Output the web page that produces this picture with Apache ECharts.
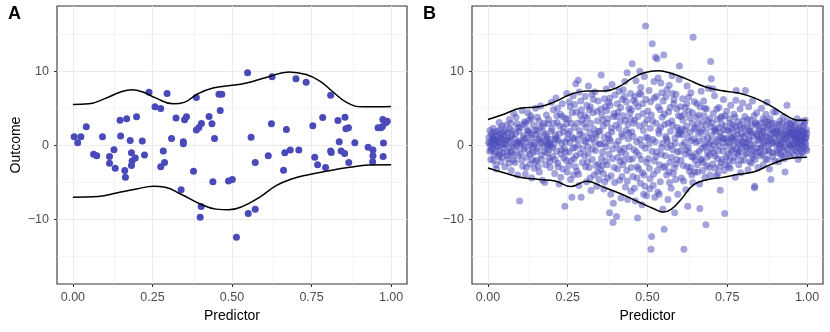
<!DOCTYPE html>
<html><head><meta charset="utf-8">
<script src="https://cdn.jsdelivr.net/npm/echarts@6/dist/echarts.min.js"></script>
<style>html,body{margin:0;padding:0;background:#fff}#c{width:830px;height:332px}</style>
</head><body><div id="c"></div>
<script>
const xTicks=[0,0.25,0.5,0.75,1];
const yTicks=[-10,0,10];
const xMinor=[0.125,0.375,0.625,0.875];
const yMinor=[-15,-5,5,15];
const panelLabels=['A','B'];

const pointsA=[[0.004,1.17],[0.015,0.36],[0.025,1.17],[0.042,2.5],[0.065,-1.2],[0.075,-1.4],[0.093,1.17],[0.115,-1.5],[0.115,-2.4],[0.129,-0.6],[0.133,-3.1],[0.148,3.4],[0.150,1.26],[0.163,-3.4],[0.165,-4.3],[0.169,3.6],[0.180,0.67],[0.184,-1.0],[0.184,-2.7],[0.186,-2.1],[0.196,-1.7],[0.200,3.86],[0.218,0.58],[0.225,-1.3],[0.239,7.17],[0.258,5.2],[0.276,4.98],[0.276,-2.9],[0.284,-0.76],[0.288,-2.3],[0.296,7.0],[0.310,0.94],[0.324,3.68],[0.340,-6.0],[0.347,0.22],[0.347,0.5],[0.351,3.45],[0.357,3.86],[0.379,-3.5],[0.388,6.46],[0.388,2.06],[0.396,2.42],[0.403,-8.25],[0.400,-9.7],[0.404,2.96],[0.428,3.9],[0.437,2.9],[0.440,-4.9],[0.445,0.94],[0.459,6.9],[0.468,6.9],[0.463,4.7],[0.489,-4.8],[0.501,-4.6],[0.514,-12.4],[0.549,9.78],[0.551,-9.2],[0.560,1.08],[0.573,-2.3],[0.573,-8.6],[0.614,-1.39],[0.624,2.9],[0.626,9.24],[0.662,-3.36],[0.666,-1.0],[0.671,2.15],[0.683,-0.63],[0.701,8.97],[0.710,-0.63],[0.733,8.5],[0.754,2.65],[0.760,-1.6],[0.769,-2.6],[0.785,3.77],[0.794,-3.0],[0.810,6.77],[0.810,-0.76],[0.812,-0.95],[0.833,3.36],[0.837,0.49],[0.843,-0.76],[0.855,3.8],[0.854,-1.1],[0.858,2.24],[0.866,2.38],[0.867,-2.3],[0.886,0.36],[0.928,-0.27],[0.943,-0.63],[0.943,-1.4],[0.942,-2.2],[0.959,2.38],[0.968,2.38],[0.974,3.5],[0.976,0.31],[0.975,-1.5],[0.983,3.05],[0.988,3.27],[0.973,2.56]];
const upperA=[[0,5.5],[0.05,5.6],[0.1,6.3],[0.15,7.2],[0.185,7.5],[0.22,7.2],[0.26,6.4],[0.315,5.6],[0.35,5.8],[0.39,6.9],[0.44,7.75],[0.5,8.1],[0.545,8.4],[0.61,9.2],[0.68,9.9],[0.733,9.55],[0.775,8.7],[0.815,7.3],[0.86,5.8],[0.91,5.2],[0.96,5.2],[1,5.25]];
const lowerA=[[0,-7.0],[0.08,-6.9],[0.14,-6.4],[0.2,-5.9],[0.253,-5.5],[0.29,-5.65],[0.34,-6.6],[0.4,-7.9],[0.45,-8.6],[0.49,-8.7],[0.53,-8.3],[0.59,-6.9],[0.64,-5.4],[0.69,-4.5],[0.74,-3.95],[0.8,-3.45],[0.87,-2.95],[0.93,-2.65],[1,-2.6]];

const pointsB=[
[0.003,1.1],[0.005,-0.8],[0.007,0.3],[0.009,-1.9],[0.011,1.6],[0.012,0.5],[0.014,-0.4],[0.016,2.3],[0.018,0.9],[0.019,-1.2],[0.021,0.1],[0.023,1.4],[0.025,-2.6],[0.026,0.7],[0.028,-0.2],[0.030,1.9],[0.032,-1.5],[0.034,0.4],[0.035,3.1],[0.037,-0.7],[0.039,1.0],[0.041,-2.2],[0.043,0.2],[0.045,2.6],[0.046,-1.0],[0.048,0.8],[0.049,-0.3],[0.013,1.2],[0.027,-3.2],[0.040,1.5],[0.008,-0.1],[0.022,0.6],[0.044,-1.6],
[0.051,1.3],[0.053,-2.9],[0.055,0.2],[0.057,2.7],[0.059,-0.9],[0.061,1.7],[0.063,-1.8],[0.065,0.6],[0.067,3.5],[0.069,-0.3],[0.071,1.1],[0.073,-3.4],[0.075,2.0],[0.077,0.0],[0.079,-1.3],[0.081,4.3],[0.083,0.9],[0.085,-2.3],[0.087,1.6],[0.089,-0.6],[0.091,2.9],[0.093,-4.0],[0.095,0.4],[0.097,1.9],[0.099,-7.5],[0.058,0.7],[0.074,-1.0],[0.088,3.8],[0.096,-1.4],[0.066,-2.4],
[0.101,2.4],[0.103,-1.1],[0.105,0.5],[0.107,4.7],[0.109,-2.8],[0.111,1.3],[0.113,-0.2],[0.115,3.2],[0.117,-3.9],[0.119,0.9],[0.121,-1.6],[0.123,2.1],[0.125,4.4],[0.127,-0.7],[0.129,1.7],[0.131,-2.5],[0.133,0.1],[0.135,3.6],[0.137,-4.4],[0.139,1.0],[0.141,-1.0],[0.143,2.7],[0.145,-3.1],[0.147,0.4],[0.149,5.0],[0.112,-0.5],[0.126,1.9],[0.138,-1.9],[0.144,0.0],[0.118,3.0],
[0.151,1.5],[0.153,-2.0],[0.155,3.8],[0.157,-0.4],[0.159,0.8],[0.161,-3.6],[0.163,2.4],[0.165,5.3],[0.167,-1.3],[0.169,0.3],[0.171,-4.7],[0.173,1.8],[0.175,3.0],[0.177,-0.9],[0.179,0.6],[0.181,-2.6],[0.183,4.1],[0.185,1.2],[0.187,-0.1],[0.189,2.9],[0.191,-1.7],[0.193,0.4],[0.195,-3.0],[0.197,1.9],[0.199,5.8],[0.188,0.2],[0.192,-0.6],[0.184,0.9],[0.196,0.0],[0.178,-5.0],[0.162,1.1],
[0.201,2.2],[0.203,-1.5],[0.205,4.8],[0.207,0.1],[0.209,-3.8],[0.211,1.4],[0.213,6.4],[0.215,-0.8],[0.217,3.1],[0.219,-2.4],[0.221,0.7],[0.223,-5.2],[0.225,2.6],[0.227,4.2],[0.229,-1.2],[0.231,0.3],[0.233,5.6],[0.235,-3.2],[0.237,1.8],[0.239,-0.4],[0.241,-8.2],[0.243,3.6],[0.245,-2.0],[0.247,7.0],[0.249,0.9],[0.214,1.0],[0.228,-4.3],[0.236,2.4],[0.244,-0.9],[0.218,5.0],
[0.251,1.6],[0.253,-2.7],[0.255,5.9],[0.257,0.4],[0.259,-4.6],[0.261,3.0],[0.263,-7.0],[0.265,1.1],[0.267,6.7],[0.269,-1.8],[0.271,2.4],[0.273,-0.3],[0.275,8.3],[0.277,4.5],[0.279,-3.5],[0.281,0.8],[0.283,8.8],[0.285,-5.4],[0.287,2.0],[0.289,-1.1],[0.291,6.0],[0.292,-7.0],[0.294,3.4],[0.296,-2.3],[0.298,1.3],[0.258,5.2],[0.268,-4.0],[0.282,0.0],[0.290,4.1],[0.274,-2.9],[0.286,7.2],
[0.301,2.9],[0.303,-1.4],[0.305,6.6],[0.307,0.5],[0.309,-4.9],[0.311,3.7],[0.313,-0.2],[0.315,8.0],[0.317,-3.0],[0.319,1.7],[0.321,5.2],[0.323,-6.1],[0.325,0.9],[0.327,-1.9],[0.329,4.4],[0.331,2.2],[0.333,-4.0],[0.335,7.2],[0.337,-0.7],[0.339,1.2],[0.341,-5.5],[0.343,3.3],[0.345,6.0],[0.347,-2.5],[0.349,0.2],[0.312,-2.2],[0.326,6.9],[0.336,1.5],[0.344,-3.6],[0.318,4.8],
[0.351,1.9],[0.353,-3.3],[0.355,9.5],[0.357,4.1],[0.359,-0.9],[0.361,2.6],[0.363,-5.9],[0.365,6.3],[0.367,0.3],[0.369,-2.1],[0.371,7.6],[0.373,3.0],[0.375,-4.4],[0.377,1.4],[0.379,-1.2],[0.381,-9.1],[0.383,5.4],[0.385,-6.6],[0.387,2.3],[0.389,8.2],[0.391,-0.5],[0.392,-10.4],[0.394,3.9],[0.396,-3.0],[0.398,6.8],[0.358,-2.7],[0.372,4.7],[0.384,0.6],[0.393,-7.8],[0.366,-4.9],[0.378,5.8],
[0.401,2.7],[0.403,-9.6],[0.405,5.6],[0.407,-1.6],[0.409,0.6],[0.411,7.3],[0.413,-4.7],[0.415,3.2],[0.417,-7.1],[0.419,1.5],[0.421,6.2],[0.423,-2.6],[0.425,4.0],[0.427,-0.4],[0.429,8.6],[0.431,-5.6],[0.433,2.0],[0.435,-3.4],[0.436,9.8],[0.438,-7.3],[0.440,0.9],[0.442,5.0],[0.444,-1.9],[0.446,3.6],[0.448,-6.2],[0.408,4.5],[0.418,-0.9],[0.428,6.6],[0.439,2.8],[0.414,-2.2],[0.447,7.0],
[0.451,1.8],[0.452,11.0],[0.454,-4.2],[0.456,6.1],[0.458,-0.6],[0.460,3.4],[0.462,-7.5],[0.464,8.7],[0.466,0.5],[0.468,-2.9],[0.469,-9.8],[0.471,5.2],[0.473,-1.3],[0.475,2.6],[0.476,10.0],[0.478,-5.1],[0.480,6.9],[0.482,0.0],[0.484,-3.7],[0.486,4.3],[0.488,-6.6],[0.490,9.3],[0.492,-5.5],[0.494,16.1],[0.496,1.1],[0.498,-2.3],[0.457,3.0],[0.467,-4.4],[0.479,7.8],[0.487,2.0],[0.463,5.7],[0.483,-8.0],
[0.501,4.6],[0.503,-1.8],[0.505,7.4],[0.507,-5.9],[0.509,2.3],[0.511,-14.0],[0.513,-12.3],[0.515,13.7],[0.517,0.8],[0.519,-3.9],[0.521,6.4],[0.523,-7.0],[0.525,11.9],[0.527,3.0],[0.529,-0.9],[0.530,11.7],[0.532,-6.3],[0.534,5.2],[0.536,1.6],[0.538,-2.6],[0.540,-4.9],[0.542,8.4],[0.544,-0.3],[0.546,3.8],[0.548,-8.6],[0.549,6.0],[0.504,0.2],[0.512,4.1],[0.522,-2.1],[0.533,9.1],[0.541,2.4],[0.508,-4.5],
[0.551,12.2],[0.552,-11.3],[0.554,2.8],[0.556,-1.4],[0.558,6.6],[0.560,-4.0],[0.562,0.6],[0.564,-7.3],[0.566,4.5],[0.568,8.1],[0.570,-2.3],[0.572,1.9],[0.574,-5.8],[0.576,3.3],[0.578,7.0],[0.580,-0.6],[0.582,5.6],[0.584,-3.1],[0.585,-9.1],[0.587,0.3],[0.589,6.9],[0.591,-1.9],[0.593,2.4],[0.595,-6.6],[0.597,4.0],[0.599,8.9],[0.557,1.2],[0.567,-3.6],[0.577,9.4],[0.588,-4.6],[0.596,1.5],
[0.600,10.7],[0.602,-0.8],[0.604,3.9],[0.606,-4.4],[0.608,1.4],[0.610,6.3],[0.612,-2.7],[0.614,-14.0],[0.616,0.4],[0.618,5.1],[0.620,-6.0],[0.622,2.6],[0.624,8.0],[0.626,-8.2],[0.628,-0.3],[0.630,4.6],[0.632,-3.5],[0.634,1.8],[0.636,7.1],[0.638,-1.5],[0.640,3.0],[0.642,-5.0],[0.643,14.6],[0.645,0.9],[0.647,5.9],[0.649,-2.0],[0.607,2.2],[0.619,-1.2],[0.629,6.5],[0.639,-4.0],[0.615,4.2],
[0.651,2.4],[0.653,-1.1],[0.655,5.6],[0.657,-3.6],[0.659,0.6],[0.661,4.1],[0.663,-5.2],[0.664,-8.5],[0.666,1.8],[0.668,7.3],[0.670,-0.4],[0.672,3.2],[0.674,-2.3],[0.676,6.0],[0.678,0.1],[0.680,-4.3],[0.682,2.7],[0.683,-10.7],[0.685,4.9],[0.687,-1.6],[0.689,1.0],[0.691,7.7],[0.693,-3.0],[0.695,3.6],[0.697,0.5],[0.698,11.3],[0.700,9.0],[0.658,2.9],[0.669,-2.0],[0.679,5.0],[0.688,-0.9],[0.696,-4.0],
[0.702,1.3],[0.704,-2.5],[0.706,4.3],[0.708,0.0],[0.710,6.7],[0.712,-1.4],[0.714,2.2],[0.716,-4.1],[0.718,3.5],[0.720,0.8],[0.722,-0.7],[0.724,5.1],[0.726,-2.9],[0.728,-6.05],[0.730,1.7],[0.732,3.9],[0.734,-1.9],[0.736,0.4],[0.738,6.2],[0.740,-3.4],[0.742,-9.2],[0.744,2.6],[0.746,-0.2],[0.748,4.6],[0.705,7.6],[0.713,1.9],[0.721,-3.8],[0.733,2.9],[0.741,0.9],[0.747,-1.6],
[0.751,2.0],[0.753,-1.2],[0.755,3.6],[0.757,0.3],[0.759,-3.1],[0.761,5.4],[0.763,1.1],[0.765,-0.6],[0.767,2.8],[0.769,-2.1],[0.771,4.2],[0.773,0.7],[0.775,-4.3],[0.777,6.1],[0.778,7.4],[0.780,1.5],[0.782,-1.0],[0.784,3.2],[0.786,-2.6],[0.788,0.1],[0.790,4.9],[0.792,-3.7],[0.794,2.3],[0.796,-0.4],[0.798,5.7],[0.756,-2.0],[0.766,0.9],[0.776,2.5],[0.787,-0.8],[0.795,1.6],
[0.801,1.2],[0.803,-2.0],[0.805,3.9],[0.807,7.4],[0.809,0.4],[0.811,-1.1],[0.813,2.6],[0.815,-3.3],[0.817,5.2],[0.819,0.9],[0.821,-0.5],[0.823,3.4],[0.825,-2.4],[0.827,1.7],[0.829,6.0],[0.831,-1.6],[0.833,0.2],[0.835,-5.7],[0.836,-5.5],[0.838,2.9],[0.840,-0.9],[0.842,4.4],[0.844,1.3],[0.846,-3.0],[0.848,2.1],[0.808,-0.3],[0.818,1.9],[0.828,-1.3],[0.839,3.1],[0.847,0.6],
[0.851,0.8],[0.853,-1.4],[0.855,3.0],[0.857,5.0],[0.859,-0.2],[0.861,1.9],[0.863,-2.6],[0.865,2.5],[0.867,0.5],[0.869,-0.8],[0.871,4.2],[0.873,1.2],[0.874,5.8],[0.876,-1.9],[0.878,2.8],[0.880,0.0],[0.882,-3.2],[0.884,3.6],[0.886,1.5],[0.887,-4.6],[0.889,0.7],[0.891,2.2],[0.893,-1.0],[0.895,4.5],[0.897,1.0],[0.899,-2.1],[0.858,1.3],[0.868,3.3],[0.879,-0.6],[0.890,2.9],
[0.901,1.6],[0.903,4.5],[0.905,-0.7],[0.907,2.4],[0.909,0.3],[0.911,-2.2],[0.913,1.1],[0.915,3.3],[0.917,-1.2],[0.919,0.6],[0.921,2.0],[0.923,-0.3],[0.925,3.8],[0.927,1.4],[0.929,-1.8],[0.931,-3.6],[0.933,0.9],[0.935,2.6],[0.937,5.4],[0.939,-0.6],[0.941,1.8],[0.943,0.2],[0.945,3.0],[0.947,-1.4],[0.949,1.2],[0.906,1.9],[0.916,0.0],[0.926,-0.9],[0.936,1.5],[0.946,2.2],
[0.951,0.9],[0.952,2.3],[0.954,-0.4],[0.955,1.5],[0.957,3.1],[0.958,0.2],[0.960,-1.3],[0.961,1.9],[0.963,0.7],[0.964,2.7],[0.966,-0.8],[0.967,1.2],[0.969,3.6],[0.970,0.4],[0.972,-1.9],[0.973,1.6],[0.975,2.4],[0.976,0.0],[0.978,1.0],[0.979,-0.5],[0.981,2.0],[0.982,3.2],[0.984,0.6],[0.985,1.4],[0.987,-1.0],[0.988,2.6],[0.990,0.9],[0.991,-0.2],[0.993,1.8],[0.994,3.4],[0.996,0.3],[0.997,1.1],[0.999,-0.7],[0.998,2.1],[0.962,1.0],[0.974,0.8],[0.983,1.3],[0.992,0.5],[0.977,-1.4],
[0.002,0.4],[0.006,2.0],[0.010,-0.6],[0.015,0.8],[0.017,-2.0],[0.020,1.8],[0.024,-0.9],[0.029,0.5],[0.033,1.3],[0.036,-1.3],[0.042,0.9],[0.047,1.7],[0.031,-0.1],[0.038,2.2],
[0.052,0.1],[0.054,1.9],[0.060,-1.4],[0.062,0.9],[0.068,2.2],[0.070,-0.8],[0.076,1.4],[0.080,-2.0],[0.084,0.3],[0.090,-0.1],[0.094,2.4],[0.098,0.6],[0.072,3.0],
[0.102,0.2],[0.106,-2.0],[0.110,2.8],[0.114,1.0],[0.120,-3.0],[0.124,0.4],[0.128,3.4],[0.132,-1.2],[0.136,1.4],[0.140,-0.3],[0.146,2.0],[0.148,-2.2],[0.134,4.0],
[0.152,-0.8],[0.154,2.0],[0.158,-2.8],[0.160,3.3],[0.164,0.5],[0.168,-1.9],[0.172,2.6],[0.176,-0.2],[0.180,1.5],[0.186,-1.0],[0.190,3.5],[0.194,-2.2],[0.198,0.8],
[0.202,-0.3],[0.206,3.0],[0.210,-1.9],[0.212,0.8],[0.216,4.0],[0.220,-2.9],[0.224,1.6],[0.230,-0.6],[0.234,3.9],[0.238,-1.7],[0.242,0.5],[0.246,2.9],[0.248,-3.6],
[0.252,3.6],[0.254,-0.9],[0.256,1.9],[0.260,-2.1],[0.264,4.4],[0.266,-0.4],[0.270,0.9],[0.272,5.5],[0.276,-1.4],[0.280,3.0],[0.284,-3.9],[0.288,1.5],[0.293,4.8],[0.297,-0.5],
[0.302,0.6],[0.304,4.0],[0.306,-2.9],[0.308,2.4],[0.310,5.4],[0.314,-1.1],[0.316,1.0],[0.320,-4.4],[0.322,3.0],[0.328,-0.5],[0.330,6.2],[0.334,0.4],[0.338,-2.7],[0.342,4.6],[0.346,1.9],[0.348,-4.6],
[0.352,0.2],[0.354,4.9],[0.356,-1.7],[0.360,3.4],[0.362,-3.8],[0.364,1.1],[0.368,5.2],[0.370,-0.2],[0.374,-2.6],[0.376,3.6],[0.380,0.9],[0.382,6.4],[0.386,-4.1],[0.388,1.8],[0.390,-1.8],[0.395,4.3],[0.397,-5.0],
[0.402,0.1],[0.404,3.9],[0.406,-3.2],[0.410,2.3],[0.412,-0.6],[0.416,5.1],[0.420,-4.2],[0.422,1.2],[0.424,7.5],[0.426,-2.0],[0.430,3.4],[0.432,-1.2],[0.434,5.9],[0.437,-4.8],[0.441,1.7],[0.443,-0.2],[0.445,4.4],[0.449,-3.0],
[0.450,4.8],[0.453,-1.8],[0.455,1.2],[0.459,-5.8],[0.461,6.6],[0.465,-0.9],[0.470,3.9],[0.472,-3.2],[0.474,7.0],[0.477,0.8],[0.481,-1.9],[0.485,5.6],[0.489,-4.0],[0.491,2.9],[0.493,-0.4],[0.495,6.2],[0.497,-6.8],[0.499,3.5],
[0.502,1.0],[0.506,-3.1],[0.510,5.9],[0.514,-0.8],[0.516,3.3],[0.518,-5.4],[0.520,8.6],[0.524,0.5],[0.526,-1.5],[0.528,6.6],[0.531,-3.4],[0.535,2.0],[0.537,-6.6],[0.539,4.8],[0.543,-1.2],[0.545,7.1],[0.547,0.3],[0.550,-3.0],
[0.553,4.2],[0.555,-2.8],[0.559,0.9],[0.561,7.5],[0.563,-0.3],[0.565,3.0],[0.569,-5.0],[0.571,5.1],[0.573,0.0],[0.575,-1.6],[0.579,2.7],[0.581,-3.8],[0.583,6.2],[0.586,1.0],[0.590,-2.5],[0.592,4.9],[0.594,-0.9],[0.598,2.0],
[0.601,1.6],[0.603,5.2],[0.605,-2.0],[0.609,0.0],[0.611,3.4],[0.613,-4.8],[0.617,2.0],[0.621,-0.6],[0.623,5.6],[0.625,-2.9],[0.627,1.1],[0.631,-1.0],[0.633,3.7],[0.635,-3.0],[0.637,0.6],[0.641,4.4],[0.644,-1.6],[0.646,2.2],[0.648,-3.6],
[0.652,0.4],[0.654,3.8],[0.656,-2.6],[0.660,1.6],[0.662,-0.8],[0.665,5.2],[0.667,-1.8],[0.671,2.2],[0.673,-3.4],[0.675,0.9],[0.677,4.0],[0.681,-0.2],[0.684,1.8],[0.686,-2.7],[0.690,3.3],[0.692,0.2],[0.694,-1.3],[0.699,2.5],
[0.701,-0.5],[0.703,3.0],[0.707,-1.0],[0.709,2.0],[0.711,-3.1],[0.715,0.5],[0.717,4.9],[0.719,-1.8],[0.723,2.4],[0.725,-0.1],[0.727,1.2],[0.729,3.7],[0.731,-2.3],[0.735,0.9],[0.737,-0.8],[0.739,2.1],[0.743,4.0],[0.745,-2.6],[0.749,1.0],
[0.752,0.5],[0.754,-2.8],[0.758,1.9],[0.760,3.0],[0.762,-0.9],[0.764,2.2],[0.768,-0.1],[0.770,1.2],[0.772,-1.6],[0.774,3.8],[0.779,-0.5],[0.781,2.0],[0.783,0.4],[0.785,-1.3],[0.789,2.7],[0.791,1.0],[0.793,-2.0],[0.797,0.5],[0.799,3.3],
[0.802,0.3],[0.804,2.4],[0.806,-1.2],[0.810,1.6],[0.812,-0.2],[0.814,3.5],[0.816,0.7],[0.820,-2.2],[0.822,1.9],[0.824,0.0],[0.826,2.6],[0.830,-0.7],[0.832,1.2],[0.834,4.0],[0.837,-1.9],[0.841,1.5],[0.843,-0.4],[0.845,2.7],[0.849,-1.0],
[0.852,2.0],[0.854,-0.4],[0.856,1.0],[0.860,-1.2],[0.862,3.6],[0.864,0.2],[0.866,1.6],[0.870,-1.8],[0.872,2.4],[0.875,0.6],[0.877,3.2],[0.881,1.0],[0.883,-0.9],[0.885,2.1],[0.888,0.3],[0.892,-1.5],[0.894,1.7],[0.896,3.0],[0.898,0.4],
[0.902,0.1],[0.904,2.0],[0.908,-1.0],[0.910,1.3],[0.912,2.8],[0.914,-0.4],[0.918,1.7],[0.920,0.4],[0.922,3.0],[0.924,-1.5],[0.928,0.8],[0.930,2.3],[0.932,-0.2],[0.934,1.2],[0.938,3.3],[0.940,0.5],[0.942,-1.1],[0.944,1.6],[0.948,0.0],[0.950,2.8],
[0.951,1.8],[0.953,0.0],[0.956,2.0],[0.959,1.3],[0.961,-0.6],[0.965,1.6],[0.968,0.2],[0.971,2.2],[0.974,-0.3],[0.976,1.9],[0.980,0.6],[0.982,-0.9],[0.986,2.0],[0.989,1.5],[0.992,2.9],[0.995,1.0],[0.997,-0.4],[0.999,1.6],[0.985,0.1],[0.970,1.0]
];
const upperB=[[0,3.5],[0.05,4.2],[0.1,5.0],[0.16,5.2],[0.21,5.9],[0.26,6.9],[0.31,7.35],[0.365,7.35],[0.41,7.9],[0.45,9.0],[0.49,9.8],[0.535,10.05],[0.575,9.7],[0.625,8.9],[0.68,7.9],[0.73,7.4],[0.785,7.05],[0.835,6.4],[0.885,5.35],[0.94,3.9],[0.97,3.4],[1,3.4]];
const lowerB=[[0,-3.05],[0.05,-3.7],[0.1,-4.3],[0.16,-4.6],[0.21,-4.8],[0.26,-5.55],[0.31,-4.85],[0.36,-5.6],[0.42,-6.6],[0.47,-7.6],[0.52,-8.55],[0.55,-9.0],[0.575,-8.6],[0.605,-7.3],[0.645,-5.3],[0.69,-4.6],[0.73,-4.35],[0.785,-3.9],[0.835,-3.55],[0.885,-2.6],[0.94,-1.8],[1,-1.6]];

const FONT='"Liberation Sans", Arial, Helvetica, sans-serif';
const PT='#4949BA';
const grids=[{left:57,top:6,width:350,height:278},{left:472,top:6,width:351,height:278}];

function xAxisFor(i){
  return {gridIndex:i,type:'value',min:-0.05,max:1.05,position:'bottom',
    name:'Predictor',nameLocation:'middle',nameGap:24,
    nameTextStyle:{fontFamily:FONT,fontSize:14,color:'#000'},
    axisLine:{show:false,onZero:false},splitLine:{show:false},
    axisTick:{show:true,length:3,customValues:xTicks,lineStyle:{color:'#333',width:1}},
    axisLabel:{customValues:xTicks,formatter:v=>v.toFixed(2),fontFamily:FONT,fontSize:12.5,color:'#4D4D4D',margin:7}};
}
function yAxisFor(i){
  return {gridIndex:i,type:'value',min:-18.7,max:18.8,position:'left',
    name:i===0?'Outcome':'',nameLocation:'middle',nameGap:34,nameRotate:90,
    nameTextStyle:{fontFamily:FONT,fontSize:14,color:'#000'},
    axisLine:{show:false,onZero:false},splitLine:{show:false},
    axisTick:{show:true,length:3,customValues:yTicks,lineStyle:{color:'#333',width:1}},
    axisLabel:{customValues:yTicks,formatter:v=>v<0?'\u2212'+Math.abs(v):String(v),fontFamily:FONT,fontSize:12.5,color:'#4D4D4D',margin:8}};
}
function gridSeries(i){
  const d=[];
  xMinor.forEach(v=>d.push({xAxis:v,lineStyle:{color:'#EDEDED',width:0.6,type:'solid'}}));
  yMinor.forEach(v=>d.push({yAxis:v,lineStyle:{color:'#EDEDED',width:0.6,type:'solid'}}));
  xTicks.forEach(v=>d.push({xAxis:v,lineStyle:{color:'#EBEBEB',width:1.1,type:'solid'}}));
  yTicks.forEach(v=>d.push({yAxis:v,lineStyle:{color:'#EBEBEB',width:1.1,type:'solid'}}));
  return {type:'line',xAxisIndex:i,yAxisIndex:i,data:[],z:0,silent:true,
    markLine:{z:0,silent:true,symbol:['none','none'],label:{show:false},animation:false,data:d}};
}
function curve(i,data){
  return {type:'line',xAxisIndex:i,yAxisIndex:i,data:data,smooth:0.45,showSymbol:false,z:8,
    lineStyle:{color:'#000',width:1.5},itemStyle:{color:'#000'},silent:true};
}
const option={
  animation:false,
  grid:grids.map(g=>Object.assign({show:true,borderColor:'#333',borderWidth:1.1,backgroundColor:'transparent'},g)),
  xAxis:[xAxisFor(0),xAxisFor(1)],
  yAxis:[yAxisFor(0),yAxisFor(1)],
  graphic:[
    {type:'text',left:8,top:5,style:{text:panelLabels[0],font:'bold 18px '+FONT,fill:'#000'}},
    {type:'text',left:423,top:5,style:{text:panelLabels[1],font:'bold 18px '+FONT,fill:'#000'}}
  ],
  series:[
    gridSeries(0),gridSeries(1),
    {type:'scatter',xAxisIndex:0,yAxisIndex:0,data:pointsA,symbolSize:7,z:6,itemStyle:{color:PT,opacity:1}},
    {type:'scatter',xAxisIndex:1,yAxisIndex:1,data:pointsB,symbolSize:7,z:6,itemStyle:{color:PT,opacity:0.5}},
    curve(0,upperA),curve(0,lowerA),curve(1,upperB),curve(1,lowerB)
  ]
};
const chart=echarts.init(document.getElementById('c'),null,{renderer:'canvas'});
chart.setOption(option);
</script></body></html>
